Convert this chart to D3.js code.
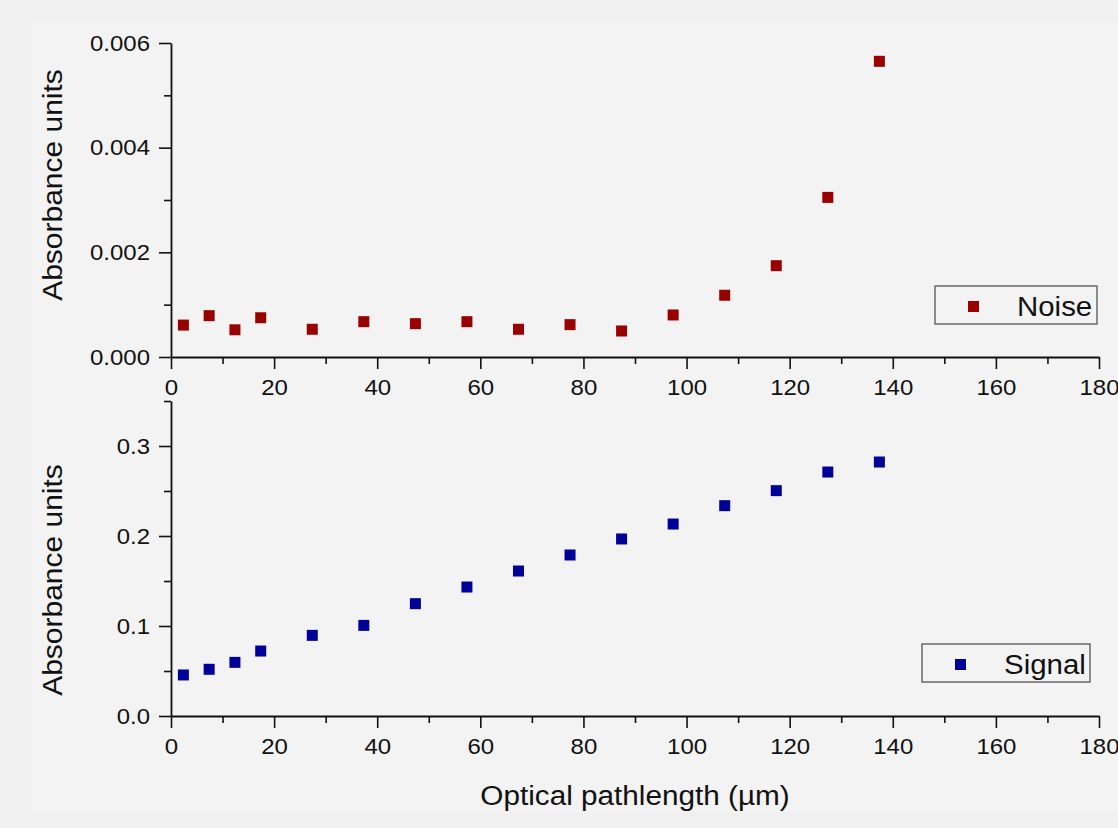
<!DOCTYPE html>
<html>
<head>
<meta charset="utf-8">
<script src="https://cdn.jsdelivr.net/npm/d3@7"></script>
<style>
  html, body { margin: 0; padding: 0; background: #f0f0f0; }
  svg { display: block; }
  text { font-family: "Liberation Sans", Arial, sans-serif; fill: #111; }
</style>
</head>
<body>
<svg id="chart" width="1118" height="828"></svg>
<script>
// ---- data ----
const pathlength = [2.4, 7.4, 12.4, 17.4, 27.4, 37.4, 47.4, 57.4, 67.4, 77.4, 87.4, 97.4, 107.4, 117.4, 127.4, 137.4];
const noise = [0.00061, 0.00079, 0.00052, 0.00075, 0.00053, 0.000675, 0.000637, 0.000675, 0.00053, 0.000618, 0.000497, 0.000803, 0.00118, 0.001745, 0.00305, 0.00565];
const signal = [0.0456, 0.0519, 0.0596, 0.0722, 0.0896, 0.1007, 0.1248, 0.1433, 0.1611, 0.1789, 0.1967, 0.2133, 0.2337, 0.2504, 0.2711, 0.2822];
const xTicks = [0, 20, 40, 60, 80, 100, 120, 140, 160, 180];
const xMinor = [10, 30, 50, 70, 90, 110, 130, 150, 170];
const noiseTicks = [0, 0.002, 0.004, 0.006];
const noiseMinor = [0.001, 0.003, 0.005];
const signalTicks = [0, 0.1, 0.2, 0.3];
const signalMinor = [0.05, 0.15, 0.25, 0.35];
const seriesNames = ["Noise", "Signal"];
const colors = ["#990000", "#000099"];

const svg = d3.select("#chart");
svg.append("rect").attr("x", 0).attr("y", 0).attr("width", 1118).attr("height", 828).attr("fill", "#f0f0f0");
svg.append("rect").attr("x", 32).attr("y", 22).attr("width", 1086).attr("height", 791).attr("fill", "#f3f3f3");

const x = d3.scaleLinear().domain([0, 180]).range([171, 1099]);
const yTop = d3.scaleLinear().domain([0, 0.006]).range([357, 43]);
const yBot = d3.scaleLinear().domain([0, 0.35]).range([716, 401]);

// widen glyphs a little to match the reference's wide rendering
function widen(sel, k) {
  sel.each(function () {
    const w = this.getComputedTextLength();
    if (w > 0) {
      this.setAttribute("textLength", (w * k).toFixed(1));
      this.setAttribute("lengthAdjust", "spacingAndGlyphs");
    }
  });
}

function styleAxis(g) {
  g.selectAll("path.domain").attr("stroke", "#111").attr("stroke-width", 1.8);
  g.selectAll(".tick line").attr("stroke", "#111").attr("stroke-width", 1.6);
  g.selectAll(".tick text").attr("font-size", 22).attr("font-family", "Liberation Sans, Arial, sans-serif").attr("fill", "#111");
  widen(g.selectAll(".tick text"), 1.09);
}

function panel(y, ticks, minor, fmt, values, color, name, legend, titleY) {
  // minor ticks
  const gxm = svg.append("g").attr("transform", `translate(0,${y.range()[0]})`)
    .call(d3.axisBottom(x).tickValues(xMinor).tickSize(7).tickSizeOuter(0).tickFormat(""));
  styleAxis(gxm); gxm.select("path.domain").remove();
  const gym = svg.append("g").attr("transform", `translate(${x(0)},0)`)
    .call(d3.axisLeft(y).tickValues(minor).tickSize(7).tickSizeOuter(0).tickFormat(""));
  styleAxis(gym); gym.select("path.domain").remove();
  // major axes
  const gx = svg.append("g").attr("transform", `translate(0,${y.range()[0]})`)
    .call(d3.axisBottom(x).tickValues(xTicks).tickSize(12).tickSizeOuter(0).tickPadding(10));
  styleAxis(gx);
  const gy = svg.append("g").attr("transform", `translate(${x(0)},0)`)
    .call(d3.axisLeft(y).tickValues(ticks).tickSize(12).tickSizeOuter(0).tickPadding(9).tickFormat(d3.format(fmt)));
  styleAxis(gy);

  // points
  const s = 11;
  svg.append("g").selectAll("rect").data(values).join("rect")
    .attr("x", (d, i) => x(pathlength[i]) - s / 2)
    .attr("y", d => y(d) - s / 2)
    .attr("width", s).attr("height", s)
    .attr("fill", color);

  // y title
  const t = svg.append("text")
    .attr("transform", `translate(62,${titleY}) rotate(-90)`)
    .attr("text-anchor", "middle")
    .attr("font-size", 27)
    .text("Absorbance units");
  widen(t, 1.11);

  // legend
  const lg = svg.append("g");
  lg.append("rect").attr("x", legend.x).attr("y", legend.y).attr("width", legend.w).attr("height", 38)
    .attr("fill", "none").attr("stroke", "#6a6a6a").attr("stroke-width", 1.5);
  lg.append("rect").attr("x", legend.x + 33).attr("y", legend.y + 15).attr("width", 11).attr("height", 11).attr("fill", color);
  const lt = lg.append("text").attr("x", legend.x + 82).attr("y", legend.y + 30).attr("font-size", 27).text(name);
  widen(lt, 1.09);
}

panel(yTop, noiseTicks, noiseMinor, ".3f", noise, colors[0], seriesNames[0], {x: 935, y: 286, w: 162}, 185);
panel(yBot, signalTicks, signalMinor, ".1f", signal, colors[1], seriesNames[1], {x: 922, y: 644, w: 168}, 580);

const xt = svg.append("text")
  .attr("x", 635).attr("y", 805)
  .attr("text-anchor", "middle")
  .attr("font-size", 27)
  .text("Optical pathlength (µm)");
widen(xt, 1.1);
</script>
</body>
</html>
